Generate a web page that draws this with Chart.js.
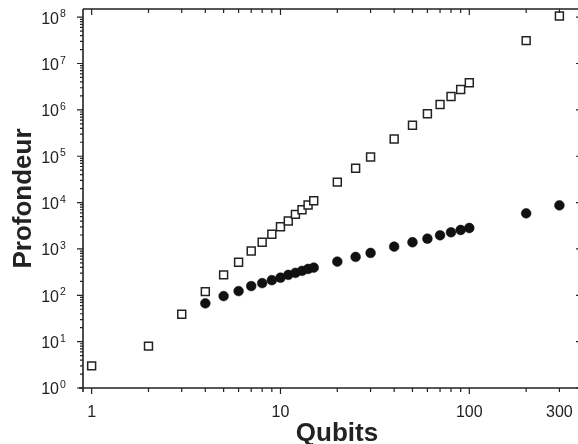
<!DOCTYPE html>
<html lang="fr">
<head>
  <meta charset="UTF-8">
  <title>Profondeur vs Qubits</title>
  <style>
    html, body { margin: 0; padding: 0; background: #fff; overflow: hidden; }
    #cadre { position: relative; width: 592px; height: 444px; }
  </style>
</head>
<body>
  <div id="cadre">
    <canvas id="grafico"></canvas>
  </div>

  <script src="https://cdn.jsdelivr.net/npm/chart.js"></script>

  <script>
    // carrés blancs (profondeur sans optimisation)
    const qubitsCarres = [1, 2, 3, 4, 5, 6, 7, 8, 9, 10, 11, 12, 13, 14, 15,
      20, 25, 30, 40, 50, 60, 70, 80, 90, 100, 200, 300];
    const profondeurCarres = [3, 8, 39, 120, 276, 517, 906, 1394, 2070, 3020, 4000, 5575, 7000, 8840, 10930,
      27600, 55200, 96600, 235600, 464000, 828000, 1310000, 1950000, 2760000, 3850000, 31200000, 106000000];

    // ronds noirs
    const qubitsRonds = [4, 5, 6, 7, 8, 9, 10, 11, 12, 13, 14, 15,
      20, 25, 30, 40, 50, 60, 70, 80, 90, 100, 200, 300];
    const profondeurRonds = [67, 96, 123, 158, 183, 212, 240, 276, 305, 336, 370, 395,
      533, 673, 820, 1120, 1394, 1666, 1969, 2287, 2564, 2830, 5860, 8710];

    // graduations
    const xEtiquettes = [1, 10, 100, 300];
    const xMineures = [2, 3, 4, 5, 6, 7, 8, 9, 20, 30, 40, 50, 60, 70, 80, 90, 200, 300];
    const yExposants = [0, 1, 2, 3, 4, 5, 6, 7, 8];

    const encre = "#222";
    const police = '"Liberation Sans", Arial, Helvetica, sans-serif';

    const axesPlugin = {
      id: "axes",
      afterDraw(chart) {
        const ctx = chart.ctx;
        const a = chart.chartArea;
        const sx = chart.scales.x;
        const sy = chart.scales.y;
        ctx.save();
        ctx.strokeStyle = encre;
        ctx.fillStyle = encre;

        // cadre
        ctx.lineWidth = 1.6;
        ctx.beginPath();
        ctx.moveTo(a.left, a.top);
        ctx.lineTo(a.right, a.top);
        ctx.moveTo(a.left, a.top);
        ctx.lineTo(a.left, a.bottom + 4);
        ctx.moveTo(a.left - 4, a.bottom);
        ctx.lineTo(a.right, a.bottom);
        ctx.moveTo(a.right, a.top);
        ctx.lineTo(a.right, a.bottom);
        ctx.stroke();

        // graduations x (bas vers l'extérieur, haut vers l'intérieur)
        ctx.lineWidth = 1.2;
        ctx.beginPath();
        [1, 10, 100].forEach(v => {
          const px = sx.getPixelForValue(v);
          ctx.moveTo(px, a.bottom); ctx.lineTo(px, a.bottom + 6);
          ctx.moveTo(px, a.top); ctx.lineTo(px, a.top + 6);
        });
        xMineures.forEach(v => {
          const px = sx.getPixelForValue(v);
          ctx.moveTo(px, a.bottom); ctx.lineTo(px, a.bottom + 4);
          ctx.moveTo(px, a.top); ctx.lineTo(px, a.top + 4);
        });
        ctx.stroke();

        // graduations y
        ctx.beginPath();
        yExposants.forEach(e => {
          const py = sy.getPixelForValue(Math.pow(10, e));
          ctx.moveTo(a.left - 6, py); ctx.lineTo(a.left, py);
          ctx.moveTo(a.right - 7, py); ctx.lineTo(a.right, py);
          if (e < 8) {
            for (let m = 2; m <= 9; m++) {
              const pm = sy.getPixelForValue(m * Math.pow(10, e));
              ctx.moveTo(a.left - 3, pm); ctx.lineTo(a.left, pm);
            }
          }
        });
        ctx.stroke();

        // étiquettes x
        ctx.font = "16px " + police;
        ctx.textAlign = "center";
        ctx.textBaseline = "middle";
        xEtiquettes.forEach(v => {
          ctx.fillText(String(v), sx.getPixelForValue(v), 413);
        });

        // étiquettes y : 10 avec exposant
        yExposants.forEach(e => {
          const py = sy.getPixelForValue(Math.pow(10, e));
          ctx.font = "16px " + police;
          ctx.textAlign = "right";
          ctx.textBaseline = "middle";
          ctx.fillText("10", 59, py + 2);
          ctx.font = "10.5px " + police;
          ctx.textAlign = "left";
          ctx.textBaseline = "top";
          ctx.fillText(String(e), 60, py - 8);
        });

        // titres des axes
        ctx.font = "bold 26px " + police;
        ctx.textAlign = "center";
        ctx.textBaseline = "alphabetic";
        ctx.fillText("Qubits", 337, 441);
        ctx.translate(31, (a.top + a.bottom) / 2);
        ctx.rotate(-Math.PI / 2);
        ctx.fillText("Profondeur", 0, 0);
        ctx.restore();
      }
    };

    document.addEventListener("DOMContentLoaded", () => {
      const lienzo = document.getElementById("grafico");

      new Chart(lienzo, {
        type: "scatter",
        data: {
          datasets: [
            {
              label: "ronds",
              data: qubitsRonds.map((q, i) => ({ x: q, y: profondeurRonds[i] })),
              pointStyle: "circle",
              pointRadius: 4.9,
              backgroundColor: "#111",
              borderColor: "#111",
              borderWidth: 0.5
            },
            {
              label: "carrés",
              data: qubitsCarres.map((q, i) => ({ x: q, y: profondeurCarres[i] })),
              pointStyle: "rect",
              pointRadius: 5.6,
              backgroundColor: "#fff",
              borderColor: encre,
              borderWidth: 1.5
            }
          ]
        },
        options: {
          responsive: true,
          maintainAspectRatio: false,
          animation: false,
          events: [],
          layout: { padding: { left: 0, top: 9, right: 9, bottom: 0 } },
          plugins: {
            legend: { display: false },
            tooltip: { enabled: false }
          },
          scales: {
            x: {
              type: "logarithmic",
              min: 0.9,
              max: 400,
              grid: { display: false },
              border: { display: false },
              ticks: { display: false },
              afterFit: s => { s.height = 56; }
            },
            y: {
              type: "logarithmic",
              min: 1,
              max: 1.5e8,
              grid: { display: false },
              border: { display: false },
              ticks: { display: false },
              afterFit: s => { s.width = 83; }
            }
          }
        },
        plugins: [axesPlugin]
      });
    });
  </script>
</body>
</html>
